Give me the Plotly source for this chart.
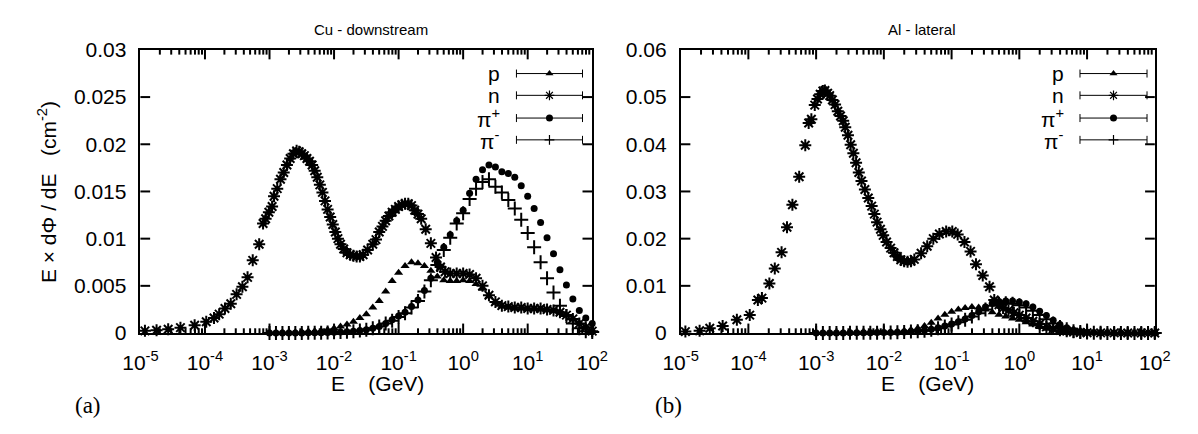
import plotly.graph_objects as go

# ---------------- data: log10(E/GeV) and E x dPhi/dE (cm^-2) ----------------
# common histogram grid for p, pi+ and pi- (10 bins per decade)
LOGE_GRID = [-3.0, -2.9, -2.8, -2.7, -2.6, -2.5, -2.4, -2.3, -2.2, -2.1,
             -2.0, -1.9, -1.8, -1.7, -1.6, -1.5, -1.4, -1.3, -1.2, -1.1,
             -1.0, -0.9, -0.8, -0.7, -0.6, -0.5, -0.4, -0.3, -0.2, -0.1,
             0.0, 0.1, 0.2, 0.3, 0.4, 0.5, 0.6, 0.7, 0.8, 0.9,
             1.0, 1.1, 1.2, 1.3, 1.4, 1.5, 1.6, 1.7, 1.8, 1.9, 2.0]

# Cu - downstream
cu_p = [0.00003, 0.00004, 0.00005, 0.00006, 0.00008, 0.0001, 0.00013, 0.00018, 0.00025, 0.00035,
        0.0005, 0.0007, 0.0009, 0.0012, 0.0016, 0.002, 0.0027, 0.0034, 0.0044, 0.0055,
        0.0064, 0.0071, 0.0075, 0.0074, 0.0071, 0.0066, 0.0060, 0.0056, 0.0055, 0.0055,
        0.0056, 0.0055, 0.0052, 0.0047, 0.0039, 0.0032, 0.0028, 0.0027, 0.0026, 0.0026,
        0.0026, 0.0026, 0.0025, 0.0025, 0.0024, 0.0022, 0.0019, 0.0015, 0.0011, 0.0007, 0.0003]

cu_pip = [0.0, 0.0, 0.0, 0.0, 0.00001, 0.00001, 0.00002, 0.00003, 0.00004, 0.00006,
          0.00008, 0.0001, 0.00014, 0.0002, 0.00027, 0.00036, 0.0005, 0.0007, 0.001, 0.0014,
          0.0018, 0.0022, 0.0028, 0.0035, 0.0045, 0.0058, 0.0075, 0.0091, 0.0104, 0.0119,
          0.0130, 0.0148, 0.0163, 0.0173, 0.0178, 0.0176, 0.0171, 0.0169, 0.0165, 0.0156,
          0.0145, 0.0132, 0.0117, 0.0101, 0.0084, 0.0067, 0.0051, 0.0036, 0.0024, 0.0016, 0.0010]

cu_pim = [0.0, 0.0, 0.0, 0.0, 0.00001, 0.00001, 0.00002, 0.00003, 0.00004, 0.00005,
          0.00007, 0.0001, 0.00013, 0.00019, 0.00026, 0.00035, 0.0005, 0.0007, 0.001, 0.0013,
          0.0017, 0.0021, 0.0027, 0.0034, 0.0044, 0.0056, 0.0072, 0.0088, 0.0101, 0.0116,
          0.0127, 0.0142, 0.0153, 0.0160, 0.0163, 0.0155, 0.0149, 0.0141, 0.0132, 0.0120,
          0.0106, 0.0091, 0.0075, 0.0058, 0.0043, 0.0029, 0.0018, 0.0010, 0.0005, 0.0002, 0.0001]

cu_n_loge = [-4.93, -4.75, -4.57, -4.38, -4.16, -3.98, -3.86, -3.78, -3.69, -3.60,
             -3.51, -3.42, -3.34, -3.26, -3.16, -3.10, -3.06, -3.01, -2.96, -2.93,
             -2.88, -2.83, -2.78, -2.73, -2.68, -2.63, -2.58, -2.54, -2.50, -2.46,
             -2.42, -2.38, -2.34, -2.30, -2.26, -2.22, -2.18, -2.14, -2.10, -2.06,
             -2.02, -1.98, -1.94, -1.90, -1.85, -1.80, -1.75, -1.70, -1.65, -1.60,
             -1.55, -1.48, -1.40, -1.35, -1.30, -1.25, -1.20, -1.15, -1.10, -1.05,
             -1.00, -0.95, -0.90, -0.85, -0.80, -0.75, -0.70, -0.65, -0.58, -0.50,
             -0.42, -0.35, -0.28, -0.20, -0.10, 0.0, 0.1, 0.2, 0.3, 0.4,
             0.5, 0.6, 0.7, 0.8, 0.9, 1.0, 1.1, 1.2, 1.3, 1.4,
             1.5, 1.6, 1.7, 1.8, 1.9, 2.0]
cu_n = [0.00023, 0.0003, 0.0004, 0.00057, 0.00083, 0.0012, 0.0016, 0.0020, 0.0026, 0.0031,
        0.0041, 0.0049, 0.0059, 0.0077, 0.0094, 0.0116, 0.0121, 0.0128, 0.0134, 0.0145,
        0.0153, 0.0163, 0.0170, 0.0178, 0.0185, 0.0190, 0.0193, 0.0192, 0.0190, 0.0188,
        0.0185, 0.0182, 0.0178, 0.0172, 0.0165, 0.0157, 0.0149, 0.0140, 0.0131, 0.0123,
        0.0115, 0.0107, 0.0100, 0.0094, 0.0089, 0.0085, 0.0083, 0.0082, 0.0081, 0.0081,
        0.0083, 0.0088, 0.0094, 0.0099, 0.0107, 0.0113, 0.0119, 0.0124, 0.0128, 0.0131,
        0.0134, 0.0136, 0.0137, 0.0137, 0.0135, 0.0130, 0.0126, 0.0121, 0.0110, 0.0095,
        0.0080, 0.0070, 0.0065, 0.0063, 0.0063, 0.0063, 0.0062, 0.0058, 0.0050, 0.0040,
        0.0033, 0.0029, 0.0028, 0.0027, 0.0027, 0.0026, 0.0026, 0.0026, 0.0025, 0.0024,
        0.0022, 0.0019, 0.0015, 0.0010, 0.0006, 0.0002]

# Al - lateral
al_p = [0.00002, 0.00002, 0.00003, 0.00003, 0.00004, 0.00005, 0.00006, 0.00008, 0.0001, 0.00013,
        0.00017, 0.00024, 0.00035, 0.0005, 0.0007, 0.001, 0.0015, 0.0022, 0.0031, 0.0039,
        0.0045, 0.0050, 0.0053, 0.0055, 0.0054, 0.0050, 0.0044, 0.0039, 0.0035, 0.0031,
        0.0028, 0.0023, 0.0018, 0.0013, 0.0009, 0.0006, 0.0004, 0.0002, 0.0001, 0.00005,
        0.00004, 0.00003, 0.00003, 0.00002, 0.00002, 0.00002, 0.00001, 0.00001, 0.00001, 0.0, 0.0]

al_pip = [0.00001, 0.00001, 0.00002, 0.00002, 0.00003, 0.00004, 0.00005, 0.00006, 0.00007, 0.00009,
          0.0001, 0.00012, 0.00016, 0.0002, 0.0003, 0.0004, 0.0006, 0.0008, 0.0011, 0.0015,
          0.0019, 0.0024, 0.0030, 0.0037, 0.0045, 0.0055, 0.0063, 0.0067, 0.0068, 0.0068,
          0.0066, 0.0062, 0.0055, 0.0046, 0.0037, 0.0027, 0.0018, 0.0011, 0.0006, 0.0003,
          0.00015, 0.0001, 0.00006, 0.00004, 0.00003, 0.00002, 0.00002, 0.00001, 0.00001, 0.0, 0.0]

al_pim = [0.00001, 0.00001, 0.00002, 0.00002, 0.00003, 0.00004, 0.00005, 0.00006, 0.00007, 0.00008,
          0.0001, 0.00012, 0.00015, 0.0002, 0.0003, 0.0004, 0.0005, 0.0007, 0.001, 0.0014,
          0.0018, 0.0023, 0.0028, 0.0035, 0.0042, 0.0050, 0.0058, 0.0062, 0.0063, 0.0062,
          0.0059, 0.0054, 0.0047, 0.0038, 0.0029, 0.0020, 0.0013, 0.0008, 0.0004, 0.0002,
          0.0001, 0.00006, 0.00004, 0.00003, 0.00002, 0.00002, 0.00001, 0.00001, 0.0, 0.0, 0.0]

al_n_loge = [-4.93, -4.72, -4.57, -4.38, -4.17, -3.98, -3.86, -3.80, -3.69, -3.61,
             -3.51, -3.43, -3.35, -3.25, -3.16, -3.11, -3.07, -3.02, -2.98, -2.94,
             -2.90, -2.87, -2.83, -2.80, -2.76, -2.72, -2.68, -2.64, -2.60, -2.57,
             -2.53, -2.49, -2.45, -2.41, -2.37, -2.33, -2.28, -2.23, -2.18, -2.14,
             -2.10, -2.05, -2.01, -1.96, -1.90, -1.85, -1.80, -1.75, -1.70, -1.65,
             -1.60, -1.55, -1.45, -1.36, -1.27, -1.18, -1.08, -0.99, -0.91, -0.81,
             -0.72, -0.64, -0.54, -0.44, -0.37, -0.30, -0.24, -0.16, -0.08, 0.0,
             0.1, 0.2, 0.3, 0.4, 0.5, 0.6, 0.7, 0.8, 0.9, 1.0,
             1.2, 1.4, 1.6, 1.8, 2.0]
al_n = [0.0003, 0.0005, 0.0010, 0.0015, 0.0028, 0.0038, 0.0070, 0.0074, 0.0105, 0.0137,
        0.0171, 0.0224, 0.0272, 0.0331, 0.0398, 0.0445, 0.0453, 0.0483, 0.0496, 0.0506,
        0.0513, 0.0514, 0.0508, 0.0503, 0.0494, 0.0484, 0.0470, 0.0460, 0.0450, 0.0436,
        0.0419, 0.0399, 0.0381, 0.0361, 0.0340, 0.0322, 0.0304, 0.0286, 0.0269, 0.0252,
        0.0235, 0.0220, 0.0207, 0.0193, 0.0180, 0.0170, 0.0162, 0.0155, 0.0152, 0.0151,
        0.0152, 0.0156, 0.0169, 0.0184, 0.0200, 0.0210, 0.0215, 0.0215, 0.0209, 0.0193,
        0.0173, 0.0146, 0.0122, 0.0098, 0.0070, 0.0060, 0.0053, 0.0048, 0.0043, 0.0038,
        0.0032, 0.0025, 0.0019, 0.0013, 0.0009, 0.0006, 0.0004, 0.0002, 0.0001, 0.00005,
        0.00004, 0.00003, 0.00002, 0.00001, 0.0]

DECADE_TICKS = [-5, -4, -3, -2, -1, 0, 1, 2]
CU_YTICKS = [0, 0.005, 0.01, 0.015, 0.02, 0.025, 0.03]
CU_YLABELS = ["0", "0.005", "0.01", "0.015", "0.02", "0.025", "0.03"]
AL_YTICKS = [0, 0.01, 0.02, 0.03, 0.04, 0.05, 0.06]
AL_YLABELS = ["0", "0.01", "0.02", "0.03", "0.04", "0.05", "0.06"]

# ---------------- styling ----------------
W, H = 1198, 434
SANS = "Liberation Sans"
SERIF = "Liberation Serif"
BLACK = "#000000"

# plot frames in pixels: (left, right, top, bottom)
FRAME_L = (126, 591, 40, 339)
FRAME_R = (682, 1170, 40, 339)
LOG_RANGE = (-5, 2)
MAJOR_LEN = 10   # px
MINOR_LEN = 5    # px
TICK_W = 2
FRAME_W = 1.5


def px_x(x):
    return x / W


def px_y(y):
    return (H - y) / H


STYLES = {
    "p": dict(symbol="triangle-up", size=8, color=BLACK, line=dict(width=0)),
    "n": dict(symbol="asterisk-open", size=10, color=BLACK, line=dict(width=2, color=BLACK)),
    "pip": dict(symbol="circle", size=7, color=BLACK, line=dict(width=0)),
    "pim": dict(symbol="cross-thin-open", size=10, color=BLACK, line=dict(width=2, color=BLACK)),
}
KEY_STYLES = {
    "p": dict(symbol="triangle-up", size=7, color=BLACK, line=dict(width=0)),
    "n": dict(symbol="asterisk-open", size=8, color=BLACK, line=dict(width=1.2, color=BLACK)),
    "pip": dict(symbol="circle", size=7, color=BLACK, line=dict(width=0)),
    "pim": dict(symbol="cross-thin-open", size=7, color=BLACK, line=dict(width=1.2, color=BLACK)),
}


def to_e(loge):
    return [10 ** v for v in loge]


fig = go.Figure()

panels = [
    ("x", "y", cu_p, cu_n_loge, cu_n, cu_pip, cu_pim),
    ("x2", "y2", al_p, al_n_loge, al_n, al_pip, al_pim),
]
for xa, ya, p, nloge, n, pip, pim in panels:
    for key, xs, ys in [("p", LOGE_GRID, p), ("n", nloge, n),
                        ("pip", LOGE_GRID, pip), ("pim", LOGE_GRID, pim)]:
        fig.add_trace(go.Scatter(x=to_e(xs), y=ys, mode="markers", marker=STYLES[key],
                                 xaxis=xa, yaxis=ya, showlegend=False, hoverinfo="skip",
                                 cliponaxis=False))

# key entries: a horizontal error-bar sample with the point symbol in the middle,
# placed in pixel terms inside each frame and converted to that panel's axes
KEY_ROWS = [("p", "p"), ("n", "n"), ("pip", "π<sup>+</sup>"), ("pim", "π<sup>-</sup>")]
KEY_Y = [65, 88, 112, 135]
KEY_GEOM = [  # axes, frame, y maximum, label right edge, sample left, sample right
    ("x", "y", FRAME_L, 0.03, 498, 513, 581),
    ("x2", "y2", FRAME_R, 0.06, 1079, 1093, 1162),
]


def px_to_e(px, frame):
    fl, frr = frame[0], frame[1]
    lo, hi = LOG_RANGE
    return 10 ** (lo + (hi - lo) * (px - fl) / (frr - fl))


annotations = []
for xa, ya, fr, ymax, lab_x, s0, s1 in KEY_GEOM:
    fl, frr, ft, fb = fr
    e0, e1, ec = px_to_e(s0, fr), px_to_e(s1, fr), px_to_e((s0 + s1) / 2, fr)
    for (key, label), ky in zip(KEY_ROWS, KEY_Y):
        yv = ymax * (fb - ky) / (fb - ft)
        fig.add_trace(go.Scatter(
            x=[ec], y=[yv], mode="markers", marker=KEY_STYLES[key],
            error_x=dict(type="data", array=[e1 - ec], arrayminus=[ec - e0], symmetric=False,
                         width=4, thickness=1, color=BLACK),
            xaxis=xa, yaxis=ya, showlegend=False, hoverinfo="skip"))
        annotations.append(dict(x=px_x(lab_x), y=px_y(ky), xref="paper", yref="paper",
                                text=label, showarrow=False, xanchor="right", yanchor="middle",
                                font=dict(family=SANS, size=21, color=BLACK)))

# titles, axis titles, panel tags
for txt, cx, cy, size, fam, ang in [
    ("Cu - downstream", 363, 18, 15, SANS, 0),
    ("Al - lateral", 930, 18, 15, SANS, 0),
    ("E    (GeV)", 370, 392, 21, SANS, 0),
    ("E    (GeV)", 936, 392, 21, SANS, 0),
    ("(a)", 72, 416, 23, SERIF, 0),
    ("(b)", 669, 416, 23, SERIF, 0),
    ("E × dΦ / dE   (cm<sup>-2</sup>)", 30, 190, 21, SANS, -90),
]:
    annotations.append(dict(x=px_x(cx), y=px_y(cy), xref="paper", yref="paper", text=txt,
                            showarrow=False, xanchor="center", yanchor="middle", textangle=ang,
                            font=dict(family=fam, size=size, color=BLACK)))

# inward tick marks on all four sides of each frame (gnuplot-style mirrored tics),
# drawn in paper pixels from each tick value's position on its axis
minor_exps = [d + m for d in DECADE_TICKS[:-1] for m in
              (0.30103, 0.47712, 0.60206, 0.69897, 0.77815, 0.84510, 0.90309, 0.95424)]
shapes = []
tick_line = dict(color=BLACK, width=TICK_W)
for fr, yvals, ymax in [(FRAME_L, CU_YTICKS, 0.03), (FRAME_R, AL_YTICKS, 0.06)]:
    fl, frr, ft, fb = fr
    lo, hi = LOG_RANGE
    for exps, ln in [(DECADE_TICKS[1:-1], MAJOR_LEN), (minor_exps, MINOR_LEN)]:
        for e in exps:
            xp = fl + (frr - fl) * (e - lo) / (hi - lo)
            for yb, yt in [(fb, fb - ln), (ft, ft + ln)]:
                shapes.append(dict(type="line", xref="paper", yref="paper",
                                   x0=px_x(xp), x1=px_x(xp), y0=px_y(yb), y1=px_y(yt),
                                   line=tick_line, layer="above"))
    for v in yvals[1:-1]:
        yp = fb - (fb - ft) * v / ymax
        for xa_, xb_ in [(fl, fl + MAJOR_LEN), (frr, frr - MAJOR_LEN)]:
            shapes.append(dict(type="line", xref="paper", yref="paper",
                               x0=px_x(xa_), x1=px_x(xb_), y0=px_y(yp), y1=px_y(yp),
                               line=tick_line, layer="above"))


def xaxis(frame, anchor):
    fl, frr, ft, fb = frame
    return dict(type="log", range=list(LOG_RANGE), domain=[px_x(fl), px_x(frr)], anchor=anchor,
                showline=True, linecolor=BLACK, linewidth=FRAME_W, mirror=True, ticks="",
                tickmode="array", tickvals=[10 ** d for d in DECADE_TICKS],
                ticktext=["10<sup>%d</sup>" % d for d in DECADE_TICKS],
                tickfont=dict(family=SANS, size=21, color=BLACK), ticklabelstandoff=10,
                showgrid=False, zeroline=False)


def yaxis(frame, rng, vals, labels, anchor):
    fl, frr, ft, fb = frame
    return dict(range=rng, domain=[px_y(fb), px_y(ft)], anchor=anchor,
                showline=True, linecolor=BLACK, linewidth=FRAME_W, mirror=True, ticks="",
                tickmode="array", tickvals=vals, ticktext=labels,
                tickfont=dict(family=SANS, size=21, color=BLACK), ticklabelstandoff=8,
                showgrid=False, zeroline=False)


fig.update_layout(
    width=W, height=H, margin=dict(l=0, r=0, t=0, b=0),
    paper_bgcolor="white", plot_bgcolor="white", showlegend=False,
    xaxis=xaxis(FRAME_L, "y"), yaxis=yaxis(FRAME_L, [0, 0.03], CU_YTICKS, CU_YLABELS, "x"),
    xaxis2=xaxis(FRAME_R, "y2"), yaxis2=yaxis(FRAME_R, [0, 0.06], AL_YTICKS, AL_YLABELS, "x2"),
    annotations=annotations, shapes=shapes,
)

fig.write_html("out.html")
